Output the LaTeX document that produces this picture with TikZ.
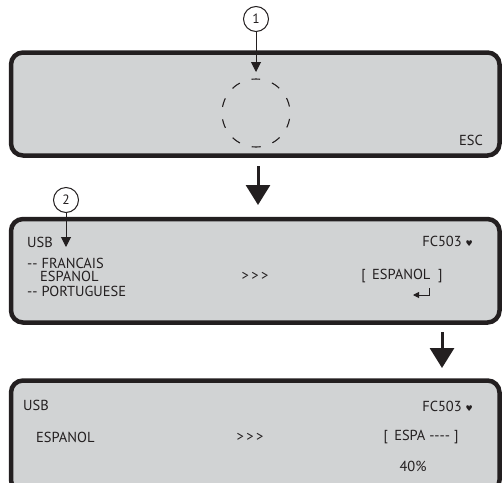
\documentclass[tikz,border=0pt]{standalone}
\usepackage{fontspec}
\setmainfont{PT Sans}
\newfontfamily\symfont{DejaVu Sans}
\usetikzlibrary{arrows.meta}
\definecolor{lcdgrey}{HTML}{D1D3D4}
\definecolor{ink}{HTML}{231F20}
\tikzset{
  lcd/.style={draw=ink, fill=lcdgrey, line width=4.5pt, rounded corners=12pt},
  lbl/.style={inner sep=0pt, text=ink, font=\fontsize{14.5}{16}\selectfont},
  callout/.style={circle, draw=ink, line width=1pt, minimum size=25pt, inner sep=0pt, text=ink, font=\fontsize{13.5}{14}\selectfont},
  smallarrow/.style={draw=ink, line width=1pt, -{Triangle[length=10pt,width=10pt]}},
  bigarrow/.style={draw=ink, line width=3pt, -{Triangle[length=20pt,width=24pt]}},
}
\begin{document}
\begin{tikzpicture}[x=1pt,y=-1pt]
\useasboundingbox (0,0) rectangle (502,482);
\clip (0,0) rectangle (502,482);
% screens
\draw[lcd] (11,52.5) rectangle (499.5,155.5);
\draw[lcd] (11,219) rectangle (499.5,322.5);
\draw[lcd] (11,380.5) rectangle (499.5,492);
% screen 1
\coordinate (dc) at (256,113);
\draw[ink, line width=1.1pt, dash pattern=on 9pt off 12.4pt, dash phase=4.5pt] ([shift={(90:34pt)}]dc) arc[start angle=90, end angle=450, radius=34pt];
\node[callout] (c1) at (256,19) {1};
\coordinate (t1) at (256,72);
\draw[smallarrow] (c1) -- (t1);
\node[lbl, anchor=east] (esc) at (483,140) {ESC};
% arrows between screens
\coordinate (a1s) at (258,166);
\coordinate (a1e) at (258,205);
\draw[bigarrow] (a1s) -- (a1e);
\coordinate (a2s) at (442,332);
\coordinate (a2e) at (442,368);
\draw[bigarrow] (a2s) -- (a2e);
% screen 2
\node[callout] (c2) at (66,200) {2};
\coordinate (t2) at (66,247);
\draw[smallarrow] (c2) -- (t2);
\node[lbl, anchor=west] (usb2) at (27,242) {USB};
\node[lbl, anchor=east] (fc2) at (473,241) {FC503 {\symfont\fontsize{8}{9}\selectfont ♥}};
\node[lbl, anchor=west] (fr) at (27,263) {-{}- FRANCAIS};
\node[lbl, anchor=west] (es) at (40,276) {ESPANOL};
\node[lbl, anchor=west] (pt) at (27,291) {-{}- PORTUGUESE};
\node[lbl] (gt2) at (255,276) {>\,>\,>};
\node[lbl] (sel2) at (402,276) {[\ \,ESPANOL\ \ ]};
% enter symbol
\coordinate (en1) at (413,295);
\coordinate (en2) at (429,295);
\coordinate (en3) at (429,288);
\draw[ink, line width=1pt, {Triangle[length=6pt,width=6pt]}-] (en1) -- (en2) -- (en3);
% screen 3
\node[lbl, anchor=west] (usb3) at (23,405) {USB};
\node[lbl, anchor=east] (fc3) at (473,406) {FC503 {\symfont\fontsize{8}{9}\selectfont ♥}};
\node[lbl, anchor=west] (es3) at (36,437) {ESPANOL};
\node[lbl] (gt3) at (250,437) {>\,>\,>};
\node[lbl] (sel3) at (421,437) {[\ \,ESPA -{}-{}-{}-\ ]};
\node[lbl] (pct) at (413,466) {40\%};
\end{tikzpicture}
\end{document}
